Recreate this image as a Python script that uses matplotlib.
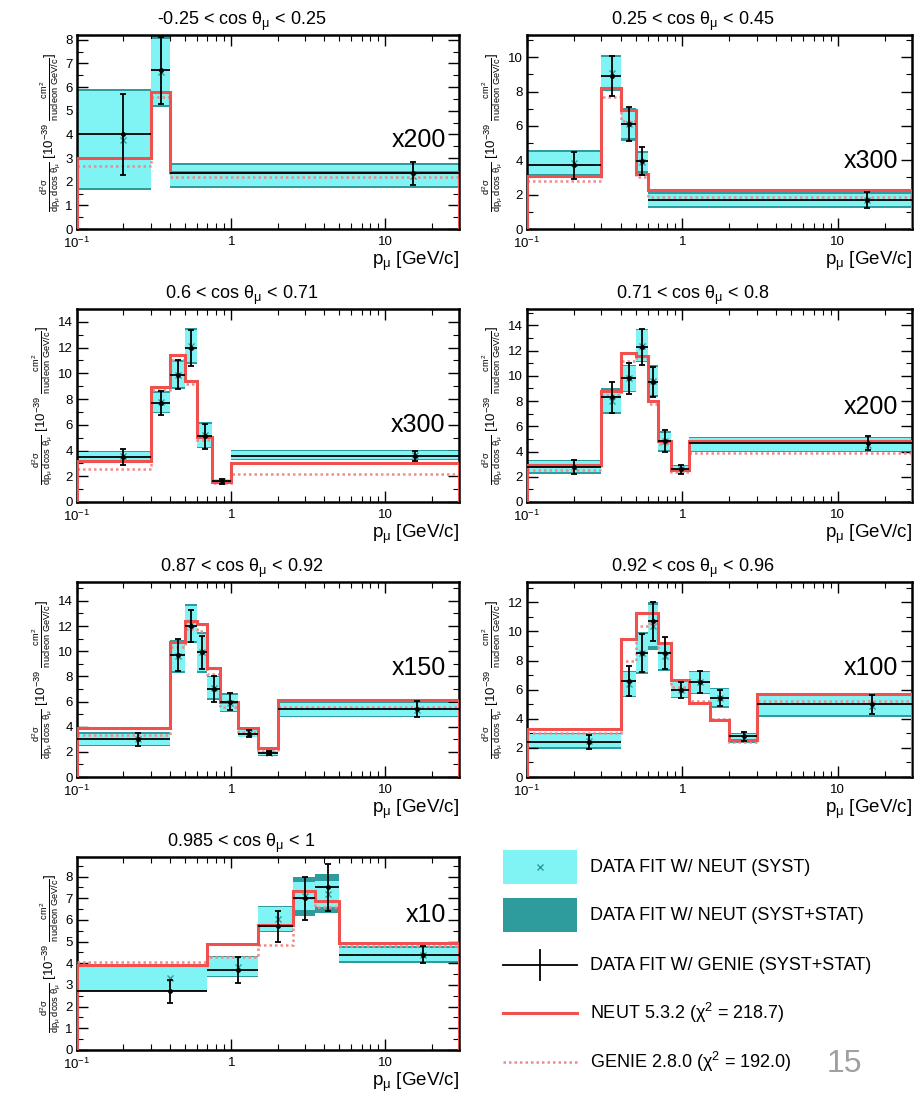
import numpy as np
import matplotlib
matplotlib.use("Agg")
import matplotlib.pyplot as plt
from matplotlib.patches import Rectangle
from matplotlib.ticker import LogLocator, NullFormatter, MultipleLocator

plt.rcParams['font.family'] = ['Liberation Sans', 'DejaVu Sans']
plt.rcParams['mathtext.fontset'] = 'custom'
plt.rcParams['mathtext.rm'] = 'Liberation Sans'
plt.rcParams['mathtext.it'] = 'Liberation Sans:italic'
plt.rcParams['mathtext.default'] = 'regular'

CYAN = '#80f4f4'
TEAL = '#2e9c9c'
RED = '#f0504e'
PINK = '#f08a8a'

# ---- data ----
titles = [r'-0.25 < cos $\theta_\mu$ < 0.25', r'0.25 < cos $\theta_\mu$ < 0.45',
          r'0.6 < cos $\theta_\mu$ < 0.71', r'0.71 < cos $\theta_\mu$ < 0.8',
          r'0.87 < cos $\theta_\mu$ < 0.92', r'0.92 < cos $\theta_\mu$ < 0.96',
          r'0.985 < cos $\theta_\mu$ < 1']
scales = ['x200', 'x300', 'x300', 'x200', 'x150', 'x100', 'x10']

# panel 1: -0.25 < cos < 0.25
edges_1 = [0.1, 0.3, 0.4, 30]
neut_fit_1 = [3.78, 6.65, 2.25]
neut_syst_1 = [2.05, 1.4, 0.45]
neut_tot_1 = [2.12, 1.5, 0.52]
genie_fit_1 = [4.0, 6.7, 2.35]
genie_err_1 = [1.72, 1.4, 0.5]
neut_mc_1 = [3.0, 5.8, 2.4]
genie_mc_1 = [2.65, 5.6, 2.2]

# panel 2: 0.25 < cos < 0.45
edges_2 = [0.1, 0.3, 0.4, 0.5, 0.6, 30]
neut_fit_2 = [3.85, 9.1, 6.1, 3.9, 1.7]
neut_syst_2 = [0.65, 0.9, 0.8, 0.5, 0.35]
neut_tot_2 = [0.75, 1.05, 0.95, 0.65, 0.45]
genie_fit_2 = [3.7, 8.9, 6.1, 3.95, 1.7]
genie_err_2 = [0.8, 1.15, 1.0, 0.8, 0.45]
neut_mc_2 = [3.1, 8.2, 6.95, 3.2, 2.25]
genie_mc_2 = [2.8, 7.7, 6.3, 3.0, 1.85]

# panel 3: 0.6 < cos < 0.71
edges_3 = [0.1, 0.3, 0.4, 0.5, 0.6, 0.75, 1.0, 30]
neut_fit_3 = [3.55, 7.75, 9.9, 12.1, 5.2, 1.6, 3.65]
neut_syst_3 = [0.35, 0.75, 1.0, 1.25, 0.9, 0.15, 0.3]
neut_tot_3 = [0.42, 0.85, 1.1, 1.4, 1.0, 0.2, 0.4]
genie_fit_3 = [3.5, 7.7, 9.9, 12.0, 5.1, 1.6, 3.6]
genie_err_3 = [0.6, 0.9, 1.15, 1.4, 1.0, 0.2, 0.4]
neut_mc_3 = [3.2, 8.9, 11.4, 9.4, 5.05, 1.55, 3.0]
genie_mc_3 = [2.6, 8.7, 11.0, 9.2, 4.8, 1.5, 2.2]

# panel 4: 0.71 < cos < 0.8
edges_4 = [0.1, 0.3, 0.4, 0.5, 0.6, 0.7, 0.85, 1.1, 30]
neut_fit_4 = [2.8, 8.0, 9.8, 12.4, 9.6, 4.8, 2.65, 4.55]
neut_syst_4 = [0.45, 0.9, 1.0, 1.2, 1.1, 0.7, 0.2, 0.5]
neut_tot_4 = [0.55, 1.05, 1.1, 1.3, 1.25, 0.8, 0.3, 0.6]
genie_fit_4 = [2.8, 8.3, 9.8, 12.3, 9.5, 4.85, 2.6, 4.7]
genie_err_4 = [0.55, 1.25, 1.2, 1.4, 1.2, 0.85, 0.35, 0.55]
neut_mc_4 = [2.9, 8.8, 11.8, 11.6, 8.0, 4.8, 2.5, 4.8]
genie_mc_4 = [2.5, 8.5, 11.2, 11.4, 7.8, 4.6, 2.4, 3.9]

# panel 5: 0.87 < cos < 0.92
edges_5 = [0.1, 0.4, 0.5, 0.6, 0.7, 0.85, 1.1, 1.5, 2.0, 30]
neut_fit_5 = [3.0, 9.6, 12.2, 9.9, 7.1, 5.9, 3.5, 1.9, 5.35]
neut_syst_5 = [0.45, 1.2, 1.4, 1.5, 0.85, 0.65, 0.3, 0.15, 0.5]
neut_tot_5 = [0.55, 1.3, 1.55, 1.65, 0.95, 0.75, 0.35, 0.2, 0.6]
genie_fit_5 = [3.0, 9.7, 12.0, 9.9, 7.0, 6.0, 3.45, 1.9, 5.4]
genie_err_5 = [0.5, 1.3, 1.3, 1.3, 1.0, 0.7, 0.3, 0.15, 0.65]
neut_mc_5 = [3.9, 10.7, 12.4, 12.2, 8.7, 5.95, 3.9, 2.3, 6.1]
genie_mc_5 = [3.35, 10.3, 11.8, 11.6, 8.2, 5.6, 3.6, 2.1, 5.6]

# panel 6: 0.92 < cos < 0.96
edges_6 = [0.1, 0.4, 0.5, 0.6, 0.7, 0.85, 1.1, 1.5, 2.0, 3.0, 30]
neut_fit_6 = [2.5, 6.4, 8.5, 10.4, 8.3, 6.0, 6.5, 5.45, 2.7, 4.9]
neut_syst_6 = [0.45, 0.8, 1.3, 1.4, 0.9, 0.5, 0.7, 0.6, 0.25, 0.65]
neut_tot_6 = [0.55, 0.9, 1.45, 1.65, 1.0, 0.6, 0.8, 0.7, 0.35, 0.75]
genie_fit_6 = [2.4, 6.6, 8.5, 10.7, 8.5, 6.0, 6.5, 5.4, 2.8, 5.0]
genie_err_6 = [0.5, 1.0, 1.3, 1.35, 1.1, 0.55, 0.75, 0.55, 0.3, 0.65]
neut_mc_6 = [3.3, 9.5, 11.3, 11.3, 9.2, 6.7, 5.1, 3.9, 2.55, 5.7]
genie_mc_6 = [3.0, 8.0, 10.4, 10.6, 8.6, 6.2, 5.2, 4.0, 2.4, 5.2]

# panel 7: 0.985 < cos < 1
edges_7 = [0.1, 0.7, 1.5, 2.5, 3.5, 5.0, 30]
neut_fit_7 = [3.3, 3.85, 6.05, 7.1, 7.2, 4.4]
neut_syst_7 = [0.55, 0.45, 0.55, 0.65, 0.6, 0.3]
neut_tot_7 = [0.6, 0.5, 0.6, 0.9, 0.9, 0.4]
genie_fit_7 = [2.7, 3.7, 5.7, 7.0, 7.5, 4.4]
genie_err_7 = [0.55, 0.6, 0.7, 1.0, 1.1, 0.4]
neut_mc_7 = [3.9, 4.9, 5.75, 7.35, 6.85, 4.95]
genie_mc_7 = [4.05, 4.3, 4.85, 7.0, 6.6, 4.8]

legend_labels = ['DATA FIT W/ NEUT (SYST)', 'DATA FIT W/ NEUT (SYST+STAT)',
                 'DATA FIT W/ GENIE (SYST+STAT)', r'NEUT 5.3.2 ($\chi^2$ = 218.7)',
                 r'GENIE 2.8.0 ($\chi^2$ = 192.0)']

panels = [
    (edges_1, neut_fit_1, neut_syst_1, neut_tot_1, genie_fit_1, genie_err_1, neut_mc_1, genie_mc_1),
    (edges_2, neut_fit_2, neut_syst_2, neut_tot_2, genie_fit_2, genie_err_2, neut_mc_2, genie_mc_2),
    (edges_3, neut_fit_3, neut_syst_3, neut_tot_3, genie_fit_3, genie_err_3, neut_mc_3, genie_mc_3),
    (edges_4, neut_fit_4, neut_syst_4, neut_tot_4, genie_fit_4, genie_err_4, neut_mc_4, genie_mc_4),
    (edges_5, neut_fit_5, neut_syst_5, neut_tot_5, genie_fit_5, genie_err_5, neut_mc_5, genie_mc_5),
    (edges_6, neut_fit_6, neut_syst_6, neut_tot_6, genie_fit_6, genie_err_6, neut_mc_6, genie_mc_6),
    (edges_7, neut_fit_7, neut_syst_7, neut_tot_7, genie_fit_7, genie_err_7, neut_mc_7, genie_mc_7),
]

# layout (pixels of the 921x1095 slide)
W, H = 921, 1095
col_x = [(77, 459), (527, 912)]
row_y = [(35, 229), (309, 502), (582, 777), (857, 1050)]
ymaxes = [8.2, 11.3, 15.0, 15.3, 15.5, 13.4, 8.9]
ysteps = [1, 2, 2, 2, 2, 2, 1]
scale_y = [0.46, 0.35, 0.40, 0.49, 0.56, 0.56, 0.70]

YLABEL = (r'$\frac{d^2\sigma}{dp_\mu\ d\cos\,\theta_\mu}$ [10$^{-39}$ '
          r'$\frac{cm^2}{nucleon\ GeV/c}$]')

fig = plt.figure(figsize=(W / 100, H / 100), dpi=100)

for i, (edges, nfit, nsyst, ntot, gfit, gerr, nmc, gmc) in enumerate(panels):
    r, c = divmod(i, 2)
    x0, x1 = col_x[c]
    y0, y1 = row_y[r]
    ax = fig.add_axes([x0 / W, 1 - y1 / H, (x1 - x0) / W, (y1 - y0) / H])

    edges = np.array(edges)
    lo, hi = edges[:-1], edges[1:]
    cen = (lo + hi) / 2
    nfit, nsyst, ntot = np.array(nfit), np.array(nsyst), np.array(ntot)

    ax.bar(lo, 2 * ntot, width=hi - lo, bottom=nfit - ntot, align='edge',
           color=TEAL, lw=0, zorder=1)
    ax.bar(lo, 2 * nsyst, width=hi - lo, bottom=nfit - nsyst, align='edge',
           color=CYAN, lw=0, zorder=2)
    ax.plot(cen, nfit, 'x', color=TEAL, ms=4, mew=1, zorder=3)
    ax.stairs(gmc, edges, baseline=None, color=PINK, lw=1.8, ls=(0, (1, 1.2)), zorder=4)
    ax.stairs(nmc, edges, baseline=0, color=RED, lw=2.2, zorder=5)
    ax.errorbar(cen, gfit, xerr=[cen - lo, hi - cen], fmt='none', ecolor='black',
                elinewidth=1.3, zorder=6)
    ax.errorbar(cen, gfit, yerr=gerr, fmt='o', color='black', ms=2.5,
                elinewidth=1.3, capsize=2.5, capthick=1.3, zorder=6)

    ax.set_xscale('log')
    ax.set_xlim(0.1, 30)
    ax.set_ylim(0, ymaxes[i])
    ax.set_xticks([0.1, 1, 10], labels=[r'$10^{-1}$', '1', '10'])
    ax.xaxis.set_minor_locator(LogLocator(base=10, subs=np.arange(2, 10)))
    ax.xaxis.set_minor_formatter(NullFormatter())
    ax.yaxis.set_major_locator(MultipleLocator(ysteps[i]))
    ax.yaxis.set_minor_locator(MultipleLocator(ysteps[i] / 2))
    ax.tick_params(which='both', direction='in', top=True, right=True, labelsize=9.5)
    ax.tick_params(which='major', length=8, width=1)
    ax.tick_params(which='minor', length=4, width=0.8)
    ax.tick_params(axis='x', pad=5)
    ax.tick_params(axis='y', pad=3)
    for s in ax.spines.values():
        s.set_linewidth(1.8)

    ax.set_title(titles[i], fontsize=13, pad=7, x=0.43)
    ax.set_xlabel(r'p$_\mu$ [GeV/c]', fontsize=13.5, loc='right', labelpad=-1)
    ax.set_ylabel(YLABEL, fontsize=9.5, labelpad=2)
    ax.text(0.965, scale_y[i], scales[i], transform=ax.transAxes, ha='right',
            va='center', fontsize=18)

# legend drawn by hand in its own axes
lax = fig.add_axes([495 / W, 1 - 1085 / H, 410 / W, 240 / H])
lax.set_xlim(0, 410)
lax.set_ylim(240, 0)
lax.axis('off')
rows = [22, 70, 120, 168, 217]
lax.add_patch(Rectangle((8, rows[0] - 17), 74, 34, color=CYAN, lw=0))
lax.plot([45], [rows[0]], 'x', color=TEAL, ms=5, mew=1)
lax.add_patch(Rectangle((8, rows[1] - 17), 74, 34, color=TEAL, lw=0))
lax.plot([8, 82], [rows[2], rows[2]], color='black', lw=1.3)
lax.plot([45, 45], [rows[2] - 15, rows[2] + 15], color='black', lw=1.3)
lax.plot([8, 82], [rows[3], rows[3]], color=RED, lw=2.2)
lax.plot([8, 82], [rows[4], rows[4]], color=PINK, lw=1.8, ls=(0, (1, 1.2)))
for yy, lab in zip(rows, legend_labels):
    lax.text(95, yy, lab, fontsize=13, va='center', ha='left')

fig.text(844 / W, 1 - 1064 / H, '15', fontsize=23, color='#a0a0a0',
         family=['Liberation Sans', 'DejaVu Sans'], weight='normal',
         ha='center', va='center')

fig.savefig('out.png', dpi=100)
